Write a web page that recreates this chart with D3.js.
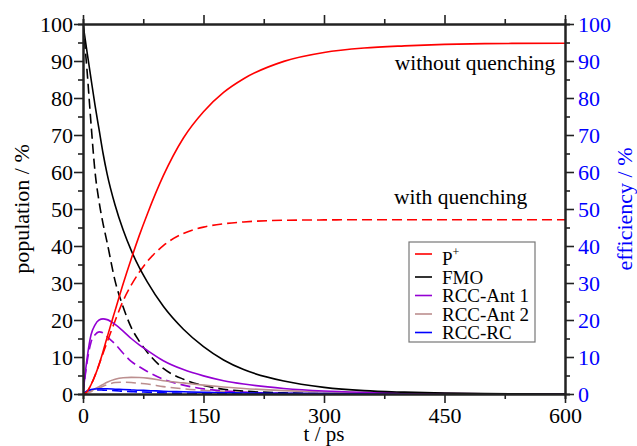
<!DOCTYPE html>
<html>
<head>
<meta charset="utf-8">
<script src="https://cdn.jsdelivr.net/npm/d3@7"></script>
<style>
  body { margin: 0; background: #fff; }
  svg text { font-family: "Liberation Serif", "Times New Roman", serif; }
</style>
</head>
<body>
<svg id="chart" width="637" height="446"></svg>
<script>
// time grid (ps) and populations (%)
const tSolid = [0, 5, 10, 15, 20, 25, 30, 40, 50, 60, 70, 80, 100, 125, 150, 175, 200, 250, 300, 350, 400, 450, 500, 600];
const pPlus = [0, 0.6, 2.5, 5, 8, 11.5, 15.3, 22.6, 29.8, 36.5, 42.8, 48.6, 59, 69.2, 76.3, 81.5, 85.2, 89.9, 92.3, 93.5, 94.1, 94.5, 94.7, 94.8];
const pPlusQ = [0, 0.6, 2.5, 5, 8, 11, 14, 19.8, 25.2, 29.4, 32.9, 35.8, 40.1, 43.4, 45.1, 46, 46.5, 46.95, 47.05, 47.1, 47.1, 47.1, 47.1, 47.1];
const fmo = [100, 92.5, 85.2, 78, 71.5, 65, 59.5, 51, 44.3, 38.8, 34.2, 30.3, 23.7, 17.5, 12.8, 9.2, 6.6, 3.5, 1.8, 0.9, 0.5, 0.25, 0.1, 0];
const fmoQ = [100, 87.5, 73, 60, 52, 46, 41, 30.5, 23.5, 18, 14.3, 11.3, 6.9, 4, 2.3, 1.3, 0.8, 0.3, 0.1, 0.05, 0, 0, 0, 0];
const ant1 = [0, 9.5, 16, 18.7, 20, 20.3, 20.1, 18.8, 17, 15, 13.3, 11.8, 9, 6.6, 4.9, 3.6, 2.7, 1.5, 0.8, 0.45, 0.25, 0.15, 0.08, 0];
const ant1Q = [0, 8.5, 14, 16, 16.8, 16.5, 15.5, 13.5, 11, 8.8, 7.4, 6.1, 4, 2.4, 1.4, 0.85, 0.5, 0.15, 0.05, 0, 0, 0, 0, 0];
const ant2 = [0, 0.4, 0.8, 1.4, 2, 2.6, 3.2, 4, 4.4, 4.5, 4.45, 4.3, 3.6, 3, 2.4, 1.9, 1.5, 0.9, 0.55, 0.35, 0.2, 0.12, 0.07, 0];
const ant2Q = [0, 0.3, 0.6, 1.1, 1.6, 2.1, 2.5, 3.1, 3.2, 3.1, 2.9, 2.7, 2, 1.4, 1, 0.7, 0.45, 0.2, 0.08, 0.03, 0, 0, 0, 0];
const rc = [0, 0.8, 1.2, 1.35, 1.4, 1.4, 1.4, 1.3, 1.2, 1.1, 1.0, 0.95, 0.75, 0.6, 0.45, 0.35, 0.28, 0.17, 0.1, 0.06, 0.03, 0.02, 0.01, 0];
const rcQ = [0, 0.7, 1.0, 1.08, 1.1, 1.05, 1.0, 0.9, 0.75, 0.65, 0.55, 0.5, 0.3, 0.2, 0.12, 0.08, 0.05, 0.02, 0, 0, 0, 0, 0, 0];

const seriesNames = ["P\u207A", "FMO", "RCC-Ant 1", "RCC-Ant 2", "RCC-RC"];
const seriesColors = ["#ff0000", "#000000", "#9400d3", "#bc8f8f", "#0000ff"];
const solidSets = [pPlus, fmo, ant1, ant2, rc];
const quenchedSets = [pPlusQ, fmoQ, ant1Q, ant2Q, rcQ];

const xTicks = [0, 150, 300, 450, 600];
const xMinor = [75, 225, 375, 525];
const yTicks = [0, 10, 20, 30, 40, 50, 60, 70, 80, 90, 100];
const yMinor = [5, 15, 25, 35, 45, 55, 65, 75, 85, 95];

const svg = d3.select("#chart");
const margin = {left: 83, right: 72, top: 24, bottom: 52};
const width = 637 - margin.left - margin.right;
const height = 446 - margin.top - margin.bottom;

const x = d3.scaleLinear().domain([0, 600]).range([0, width]);
const y = d3.scaleLinear().domain([0, 100]).range([height, 0]);
const y2 = d3.scaleLinear().domain([0, 100]).range([height, 0]);

const g = svg.append("g").attr("transform", `translate(${margin.left},${margin.top})`);

g.append("clipPath").attr("id", "clip")
    .append("rect").attr("x", 0).attr("y", -2).attr("width", width).attr("height", height + 2);

// curves: dashed = with quenching, solid = without
const line = d3.line()
    .x((d, i) => x(tSolid[i]))
    .y(d => y(d))
    .curve(d3.curveMonotoneX);

const curves = g.append("g").attr("clip-path", "url(#clip)");
// draw order: brown, blue, purple, black, red
const order = [3, 4, 2, 1, 0];
order.forEach(k => {
    curves.append("path")
        .attr("d", line(quenchedSets[k]))
        .attr("fill", "none")
        .attr("stroke", seriesColors[k])
        .attr("stroke-width", 1.6)
        .attr("stroke-dasharray", "10,5");
});
order.forEach(k => {
    curves.append("path")
        .attr("d", line(solidSets[k]))
        .attr("fill", "none")
        .attr("stroke", seriesColors[k])
        .attr("stroke-width", 1.6);
});

// axes
const axisColor = "#222";
function styleAxis(sel, textColor) {
    sel.selectAll(".domain").attr("stroke", axisColor).attr("stroke-width", 2);
    sel.selectAll(".tick line").attr("stroke", axisColor).attr("stroke-width", 1.6);
    sel.selectAll("text").attr("font-size", 22).attr("font-family", "Liberation Serif").attr("fill", textColor);
}

const gxMinor = g.append("g").attr("transform", `translate(0,${height})`)
    .call(d3.axisBottom(x).tickValues(xMinor).tickSize(5).tickFormat(""));
styleAxis(gxMinor, "#000");
const gx = g.append("g").attr("transform", `translate(0,${height})`)
    .call(d3.axisBottom(x).tickValues(xTicks).tickSize(9).tickSizeOuter(0).tickPadding(4));
styleAxis(gx, "#000");

const gtMinor = g.append("g").call(d3.axisTop(x).tickValues(xMinor).tickSize(5).tickFormat(""));
styleAxis(gtMinor, "#000");
const gt = g.append("g").call(d3.axisTop(x).tickValues(xTicks).tickSize(9).tickSizeOuter(0).tickFormat(""));
styleAxis(gt, "#000");

const gyMinor = g.append("g").call(d3.axisLeft(y).tickValues(yMinor).tickSize(5).tickFormat(""));
styleAxis(gyMinor, "#000");
const gy = g.append("g").call(d3.axisLeft(y).tickValues(yTicks).tickSize(9).tickSizeOuter(0).tickPadding(1));
styleAxis(gy, "#000");

const gy2Minor = g.append("g").attr("transform", `translate(${width},0)`)
    .call(d3.axisRight(y2).tickValues(yMinor).tickSize(5).tickFormat(""));
styleAxis(gy2Minor, "#0000ff");
const gy2 = g.append("g").attr("transform", `translate(${width},0)`)
    .call(d3.axisRight(y2).tickValues(yTicks).tickSize(9).tickSizeOuter(0).tickPadding(4));
styleAxis(gy2, "#0000ff");

// axis titles
svg.append("text")
    .attr("x", margin.left + width / 2).attr("y", 441)
    .attr("text-anchor", "middle").attr("font-size", 21)
    .text("t / ps");
svg.append("text")
    .attr("transform", `translate(28.5,${margin.top + height / 2}) rotate(-90)`)
    .attr("text-anchor", "middle").attr("font-size", 22)
    .text("population / %");
svg.append("text")
    .attr("transform", `translate(632,${margin.top + height / 2}) rotate(-90)`)
    .attr("text-anchor", "middle").attr("font-size", 22).attr("fill", "#0000ff")
    .text("efficiency / %");

// annotations
g.append("text")
    .attr("x", x(588)).attr("y", y(87.6))
    .attr("text-anchor", "end").attr("font-size", 21.5)
    .text("without quenching");
g.append("text")
    .attr("x", x(553)).attr("y", y(51.3))
    .attr("text-anchor", "end").attr("font-size", 21.5)
    .text("with quenching");

// legend
const legend = svg.append("g").attr("transform", "translate(409,242)");
legend.append("rect")
    .attr("width", 126).attr("height", 100)
    .attr("fill", "#fff").attr("stroke", "#777").attr("stroke-width", 1.2);
const rowY = [12, 35, 53.5, 72, 90.5];
seriesNames.forEach((name, i) => {
    legend.append("line")
        .attr("x1", 6).attr("x2", 23)
        .attr("y1", rowY[i]).attr("y2", rowY[i])
        .attr("stroke", seriesColors[i]).attr("stroke-width", 1.6);
    const t = legend.append("text")
        .attr("x", 33).attr("y", rowY[i] + 6.5 + (i === 0 ? 4 : 0))
        .attr("font-size", 19);
    if (i === 0) {
        t.text("P");
        t.append("tspan").attr("dy", -9).attr("font-size", 12).text("+");
    } else {
        t.text(name);
    }
});
</script>
</body>
</html>
